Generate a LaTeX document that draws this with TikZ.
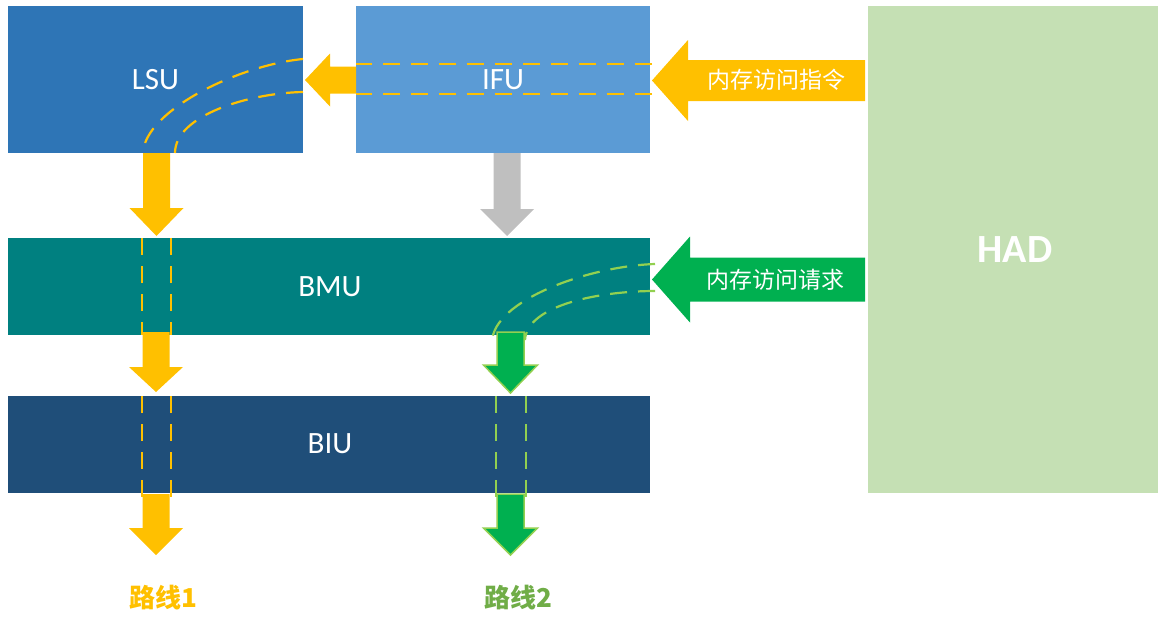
\documentclass[tikz,border=0pt]{standalone}
\usepackage{fontspec}
\setmainfont{Carlito}
\newfontfamily\cjk{Noto Sans CJK SC}
\definecolor{lsublue}{HTML}{2E75B6}
\definecolor{ifublue}{HTML}{5B9BD5}
\definecolor{hadgreen}{HTML}{C5E0B4}
\definecolor{bmuteal}{HTML}{008080}
\definecolor{biunavy}{HTML}{1F4E79}
\definecolor{yel}{HTML}{FFC000}
\definecolor{dgreen}{HTML}{00B050}
\definecolor{lgreen}{HTML}{92D050}
\definecolor{labgreen}{HTML}{70AD47}
\definecolor{arrgray}{HTML}{BFBFBF}
\tikzset{
  box/.style={draw=none, inner sep=0pt, text=white, font=\fontsize{31}{36}\selectfont},
  boxlabel/.style={text=white, font=\fontsize{31}{36}\selectfont},
  ydash/.style={draw=yel, line width=2.2pt, dash pattern=on 17pt off 11pt},
  gdash/.style={draw=lgreen, line width=2.2pt, dash pattern=on 17pt off 11pt},
  yarr/.style={fill=yel},
  garr/.style={fill=dgreen, draw=lgreen, line width=1.5pt, line join=miter},
  grarr/.style={fill=arrgray},
  arrlabel/.style={text=white, font=\cjk\fontsize{23}{28}\selectfont},
  routelabel/.style={font=\cjk\bfseries\fontsize{26}{30}\selectfont},
}
% down block arrow: #1 style, #2 centre x, #3 top y, #4 head base y, #5 tip y
\newcommand\blockdown[5]{%
  \path[#1] (#2-13.5,#3) -- (#2+13.5,#3) -- (#2+13.5,#4) -- (#2+27,#4) -- (#2,#5)
    -- (#2-27,#4) -- (#2-13.5,#4) -- cycle;}
% left block arrow: #1 style, #2 tip x, #3 centre y, #4 head base x, #5 tail x, #6 shaft half, #7 head half
\newcommand\blockleft[7]{%
  \path[#1] (#2,#3) -- (#4,#3-#7) -- (#4,#3-#6) -- (#5,#3-#6) -- (#5,#3+#6)
    -- (#4,#3+#6) -- (#4,#3+#7) -- cycle;}
\begin{document}
\begin{tikzpicture}[x=1pt,y=-1pt]
\useasboundingbox (0,0) rectangle (1158,616);

% boxes
\node[box, fill=lsublue, minimum width=295pt, minimum height=147pt] (lsu) at (155.5,79.5) {LSU};
\node[box, fill=ifublue, minimum width=294pt, minimum height=147pt] (ifu) at (503,79.5) {IFU};
\node[box, fill=hadgreen, minimum width=290pt, minimum height=487pt] (had) at (1013,249.5) {};
\node[text=white, font=\bfseries\fontsize{40}{46}\selectfont] (hadlabel) at (1015,250) {HAD};
\node[box, fill=bmuteal, minimum width=642pt, minimum height=97pt] (bmu) at (329,286.5) {};
\node[boxlabel] (bmulabel) at (330,287) {BMU};
\node[box, fill=biunavy, minimum width=642pt, minimum height=97pt] (biu) at (329,444.5) {};
\node[boxlabel] (biulabel) at (330,444) {BIU};

% yellow dashed path (route 1)
\draw[ydash] (652,64) -- (356,64);
\draw[ydash] (652,94) -- (356,94);
\draw[ydash] (303,59) .. controls (240,65) and (145,110) .. (143,153);
\draw[ydash] (303,92) .. controls (250,93) and (175,115) .. (175,153);
\draw[ydash] (142,238) -- (142,335);
\draw[ydash] (171,238) -- (171,335);
\draw[ydash] (142,396) -- (142,497);
\draw[ydash] (171,396) -- (171,497);

% green dashed path (route 2)
\draw[gdash] (655,264) .. controls (590,266) and (493,300) .. (492,342);
\draw[gdash] (655,291) .. controls (600,291) and (527,305) .. (525,340);
\draw[gdash] (496,396) -- (496,497);
\draw[gdash] (526,396) -- (526,497);

% block arrows
\blockleft{yarr}{305}{80}{330}{356}{13.5}{26.5}
\blockleft{yarr}{652}{80.5}{688}{865}{20.5}{40.5}
\blockleft{fill=dgreen}{652}{279.5}{690}{865}{22}{43}
\blockdown{yarr}{156.5}{153}{208}{236}
\blockdown{grarr}{507}{153}{209}{236}
\blockdown{yarr}{156}{332}{367}{392}
\blockdown{garr}{510.5}{332}{365}{393}
\blockdown{yarr}{156}{494}{528}{555}
\blockdown{garr}{510.5}{494}{528}{555}

% arrow labels
\node[arrlabel] (instr) at (776,80) {内存访问指令};
\node[arrlabel] (req) at (775,280) {内存访问请求};

% route labels
\node[routelabel, text=yel] (route1) at (163,598) {路线1};
\node[routelabel, text=labgreen] (route2) at (518,598) {路线2};
\end{tikzpicture}
\end{document}
